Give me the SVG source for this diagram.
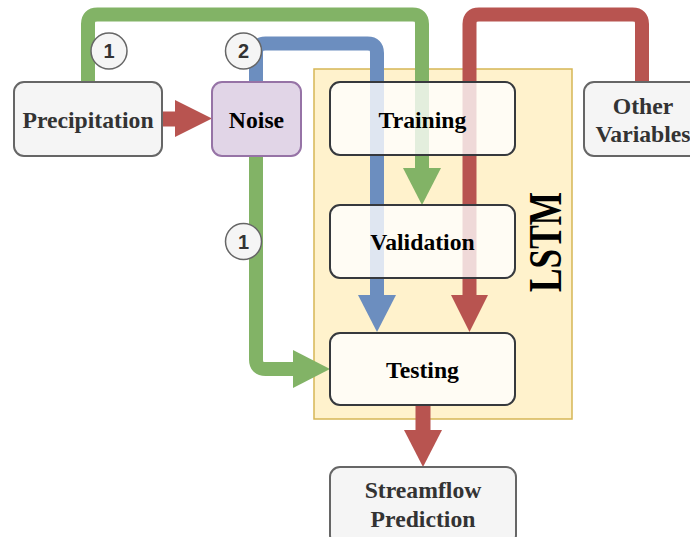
<svg xmlns="http://www.w3.org/2000/svg" width="690" height="537" viewBox="0 0 690 537">
<style>
.lbl{font-family:"Liberation Serif","Times New Roman",serif;font-weight:bold;font-size:23.7px;text-anchor:middle}
.num{font-family:"Liberation Sans",Arial,sans-serif;font-weight:bold;font-size:20px;text-anchor:middle;fill:#333}
.gray{fill:#f5f5f5;stroke:#666;stroke-width:2}
.inner{fill:#ffffff;fill-opacity:0.78;stroke:#36393d;stroke-width:2}
.line{fill:none;stroke-width:14}
.circ{fill:#f5f5f5;stroke:#666;stroke-width:1.5}
</style>
<rect width="690" height="537" fill="#ffffff"/>
<g id="lstm">
<rect x="314" y="69" width="258" height="350" fill="#fff2cc" stroke="#d6b656" stroke-width="1.5"/>
<text transform="translate(561,242) rotate(-90)" font-family="Liberation Serif,Times New Roman,serif" font-weight="bold" font-size="46" text-anchor="middle" textLength="100" lengthAdjust="spacingAndGlyphs" fill="#000">LSTM</text>
</g>
<g id="connectors">
<path class="line" stroke="#82b366" d="M88 82 V24 Q88 14.5 97.5 14.5 H412.5 Q422 14.5 422 24 V169"/>
<polygon fill="#82b366" points="403,168 441,168 422,205"/>
<path class="line" stroke="#6c8ebf" d="M256 82 V53 Q256 43.5 265.5 43.5 H367.5 Q377 43.5 377 53 V296"/>
<polygon fill="#6c8ebf" points="358,295 396,295 377,332"/>
<path class="line" stroke="#b85450" d="M642 82 V24 Q642 14.5 632.5 14.5 H479 Q469.5 14.5 469.5 24 V296"/>
<polygon fill="#b85450" points="451,295 488,295 469.5,332"/>
<path class="line" stroke="#82b366" d="M256 156 V359.5 Q256 369 265.5 369 H294"/>
<polygon fill="#82b366" points="293,350 293,388 330,369"/>
<rect x="161" y="111.5" width="15" height="15" fill="#b85450"/>
<polygon fill="#b85450" points="175,100 175,137 212,118.5"/>
<rect x="415.5" y="405" width="15" height="26" fill="#b85450"/>
<polygon fill="#b85450" points="404,430 442,430 423,467"/>
</g>
<g id="precipitation">
<rect class="gray" x="14" y="82" width="148" height="74" rx="10"/>
<text class="lbl" x="88" y="127.5" fill="#333">Precipitation</text>
</g>
<g id="noise">
<rect x="212" y="82" width="89" height="74" rx="10" fill="#e1d5e7" stroke="#9673a6" stroke-width="2"/>
<text class="lbl" x="256.5" y="127.5" fill="#000">Noise</text>
</g>
<g id="training">
<rect class="inner" x="330" y="82" width="185" height="73" rx="10"/>
<text class="lbl" x="422.5" y="127.5" fill="#000">Training</text>
</g>
<g id="validation">
<rect class="inner" x="330" y="205" width="185" height="73" rx="10"/>
<text class="lbl" x="422.5" y="250" fill="#000">Validation</text>
</g>
<g id="testing">
<rect class="inner" x="330" y="333" width="185" height="72" rx="10"/>
<text class="lbl" x="422.5" y="377.5" fill="#000">Testing</text>
</g>
<g id="other-variables">
<rect class="gray" x="584" y="82" width="118" height="74" rx="10"/>
<text class="lbl" x="643" y="114" fill="#333">Other</text>
<text class="lbl" x="643" y="142" fill="#333">Variables</text>
</g>
<g id="streamflow">
<rect class="gray" x="330" y="467" width="186" height="78" rx="10"/>
<text class="lbl" x="423" y="498" fill="#333">Streamflow</text>
<text class="lbl" x="423" y="527" fill="#333">Prediction</text>
</g>
<g id="badges">
<circle class="circ" cx="109" cy="51" r="18"/>
<text class="num" x="109" y="58">1</text>
<circle class="circ" cx="243.5" cy="51" r="18"/>
<text class="num" x="243.5" y="58">2</text>
<circle class="circ" cx="243.5" cy="241.5" r="18"/>
<text class="num" x="243.5" y="248.5">1</text>
</g>
</svg>
